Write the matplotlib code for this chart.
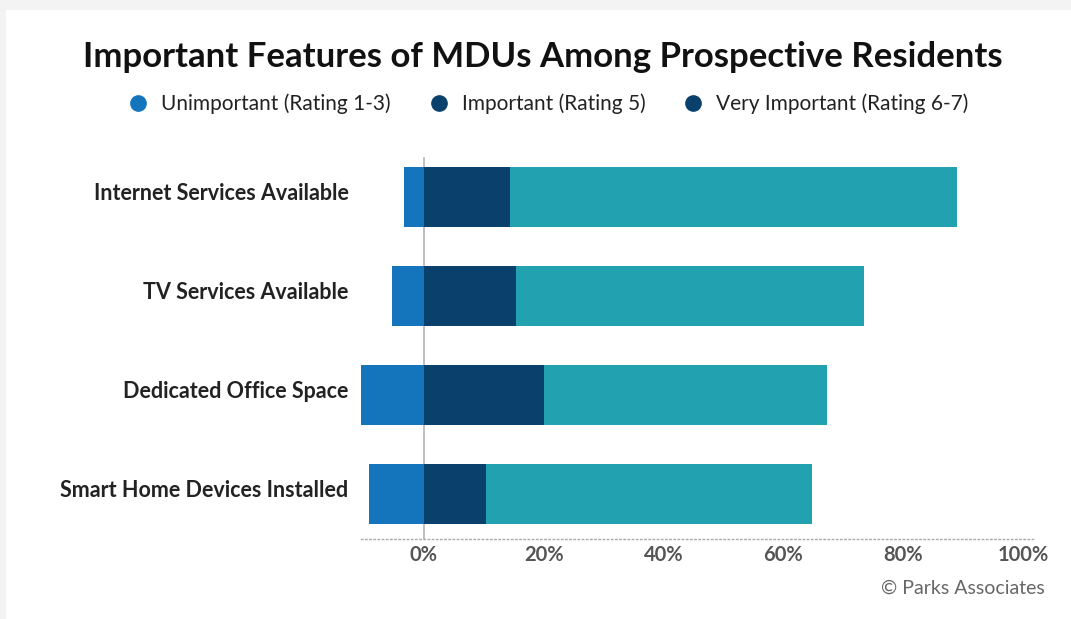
import matplotlib.pyplot as plt
import matplotlib.transforms as mtransforms
from matplotlib.patches import Rectangle
from matplotlib.lines import Line2D

plt.rcParams['font.family'] = ['Lato', 'DejaVu Sans']

categories = ["Internet Services Available", "TV Services Available",
              "Dedicated Office Space", "Smart Home Devices Installed"]
unimportant = [-3.3, -5.3, -10.5, -9.2]
important = [14.3, 15.3, 20.0, 10.3]
very_important = [74.7, 58.2, 47.3, 54.5]
series_names = ["Unimportant (Rating 1-3)", "Important (Rating 5)",
                "Very Important (Rating 6-7)"]
ticks = [0, 20, 40, 60, 80, 100]

c_unimp = "#1475bd"
c_imp = "#09416c"
c_very = "#22a1b0"

fig = plt.figure(figsize=(10.71, 6.19), dpi=100)
fig.patch.set_facecolor("#f3f3f3")
# white card
fig.patches.append(Rectangle((6/1071, 0), 1, 1 - 10/619, transform=fig.transFigure,
                             facecolor="white", edgecolor="none", zorder=-5))

ax = fig.add_axes([361/1071, 1 - 539/619, (1033-361)/1071, (539-148)/619])
ax.set_zorder(2)
ax.set_facecolor("white")

y = list(range(len(categories)))
h = 0.606
ax.barh(y, unimportant, height=h, color=c_unimp, zorder=2)
ax.barh(y, important, height=h, color=c_imp, zorder=2)
ax.barh(y, very_important, left=important, height=h, color=c_very, zorder=2)

ax.axvline(0, color="#b5b5b5", lw=1.2, zorder=1, ymin=0.0, ymax=0.975)

ax.set_xlim(-10.5, 101.7)
ax.set_ylim(3.455, -0.5)
ax.set_xticks(ticks)
ax.set_xticklabels([f"{t}%" for t in ticks], fontsize=14.5, color="#555555",
                   fontweight="bold")
ax.set_yticks(y)
ax.set_yticklabels(categories, fontsize=15.5, color="#222222", fontweight="bold")
ax.tick_params(axis="both", length=0)
ax.tick_params(axis="y", pad=9)
ax.tick_params(axis="x", pad=4)
shift = mtransforms.ScaledTranslation(0, 6/100, fig.dpi_scale_trans)
for lab in ax.get_yticklabels():
    lab.set_transform(lab.get_transform() + shift)
for s in ["top", "right", "left"]:
    ax.spines[s].set_visible(False)
ax.spines["bottom"].set_linestyle((0, (1, 2)))
ax.spines["bottom"].set_color("#aaaaaa")
ax.spines["bottom"].set_linewidth(1)

fig.text(543/1071, 1 - 57/619, "Important Features of MDUs Among Prospective Residents",
         ha="center", va="center", fontsize=25, fontweight="bold", color="#111111")

handles = [Line2D([], [], marker="o", ls="", markersize=11, color=c)
           for c in [c_unimp, c_imp, c_imp]]
fig.legend(handles, series_names, loc="center", bbox_to_anchor=(543/1071, 1 - 104/619),
           ncol=3, frameon=False, fontsize=15, handletextpad=0.1, columnspacing=1.3,
           labelcolor="#222222")

fig.text(1045/1071, 1 - 588/619, "© Parks Associates", ha="right", va="center",
         fontsize=14, color="#666666")

fig.savefig("out.png", dpi=100, facecolor=fig.get_facecolor())
